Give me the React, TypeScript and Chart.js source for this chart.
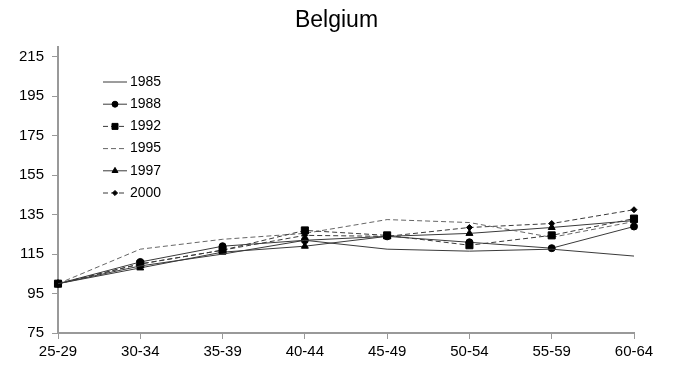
import React, { useEffect, useRef } from "react";
import { Chart, registerables } from "chart.js";
import { drawPoint } from "chart.js/helpers";

Chart.register(...registerables);

const categories = ["25-29", "30-34", "35-39", "40-44", "45-49", "50-54", "55-59", "60-64"];
const series1985 = [100, 109, 115, 122, 117.5, 116.5, 117.5, 114];
const series1988 = [100, 111, 119, 122, 124, 121, 118, 129];
const series1992 = [100, 110, 117, 127, 124.5, 119.5, 124.5, 133];
const series1995 = [100, 117.5, 122.5, 125.5, 132.5, 131, 123.5, 131.5];
const series1997 = [100, 108, 116, 119, 124, 125.5, 128.5, 132];
const series2000 = [100, 110, 117, 124.5, 124, 128.5, 130.5, 137.5];
const yTicks = [75, 95, 115, 135, 155, 175, 195, 215];
const title = "Belgium";

const FONT = "'Liberation Sans', Arial, sans-serif";

const titlePlugin = {
  id: "customTitle",
  afterDraw(chart: any) {
    const ctx = chart.ctx;
    ctx.save();
    ctx.fillStyle = "#000";
    ctx.font = `23px ${FONT}`;
    ctx.textAlign = "center";
    ctx.textBaseline = "alphabetic";
    ctx.fillText(title, chart.width / 2, 27);
    ctx.restore();
  },
};

const legendPlugin = {
  id: "customLegend",
  afterDraw(chart: any) {
    const ctx = chart.ctx;
    const x0 = chart.chartArea.left + 45;
    const x1 = x0 + 24;
    const y0 = 82;
    const step = 22.2;
    chart.data.datasets.forEach((ds: any, i: number) => {
      const y = y0 + i * step;
      ctx.save();
      ctx.strokeStyle = ds.borderColor;
      ctx.lineWidth = ds.borderWidth;
      ctx.setLineDash(ds.borderDash || []);
      ctx.beginPath();
      ctx.moveTo(x0, y);
      ctx.lineTo(x1, y);
      ctx.stroke();
      ctx.setLineDash([]);
      if (ds.pointRadius > 0) {
        ctx.fillStyle = ds.pointBackgroundColor;
        ctx.strokeStyle = ds.pointBorderColor;
        ctx.lineWidth = 1;
        drawPoint(ctx, { pointStyle: ds.pointStyle, radius: ds.pointRadius * 0.85, rotation: 0, borderWidth: 1 }, (x0 + x1) / 2, y);
      }
      ctx.fillStyle = "#000";
      ctx.font = `14px ${FONT}`;
      ctx.textAlign = "left";
      ctx.textBaseline = "middle";
      ctx.fillText(ds.label, x1 + 3, y);
      ctx.restore();
    });
  },
};

export default function App() {
  const ref = useRef<HTMLCanvasElement | null>(null);
  useEffect(() => {
    if (!ref.current) return;
    const mk = (label: string, data: number[], opts: any) => ({
      label,
      data,
      borderColor: "#3a3a3a",
      borderWidth: 1,
      pointBackgroundColor: "#000",
      pointBorderColor: "#000",
      pointRadius: 0,
      pointStyle: "circle",
      tension: 0,
      fill: false,
      ...opts,
    });
    const chart = new Chart(ref.current, {
      type: "line",
      data: {
        labels: categories,
        datasets: [
          mk("1985", series1985, {}),
          mk("1988", series1988, { pointRadius: 3.5, pointStyle: "circle" }),
          mk("1992", series1992, { borderDash: [5, 3], pointRadius: 5, pointStyle: "rect" }),
          mk("1995", series1995, { borderDash: [5, 3], borderColor: "#666" }),
          mk("1997", series1997, { pointRadius: 4, pointStyle: "triangle" }),
          mk("2000", series2000, { borderDash: [5, 3], pointRadius: 3, pointStyle: "rectRot" }),
        ],
      },
      options: {
        responsive: false,
        animation: false,
        layout: { padding: { left: 0, right: 39, top: 47, bottom: 0 } },
        plugins: {
          legend: { display: false },
          tooltip: { enabled: false },
          title: { display: false },
        },
        scales: {
          x: {
            type: "category",
            offset: false,
            grid: { display: true, drawOnChartArea: false, drawTicks: true, tickLength: 6, color: "#999" },
            border: { color: "#999", width: 2 },
            ticks: { color: "#000", font: { family: FONT, size: 15 }, padding: 4, maxRotation: 0, autoSkip: false },
            afterFit(s: any) { s.height = 33; },
          },
          y: {
            min: 75,
            max: 220,
            afterBuildTicks(s: any) { s.ticks = yTicks.map((v) => ({ value: v })); },
            grid: { display: true, drawOnChartArea: false, drawTicks: true, tickLength: 6, color: "#999" },
            border: { color: "#999", width: 2 },
            ticks: { color: "#000", font: { family: FONT, size: 15 }, padding: 8 },
            afterFit(s: any) { s.width = 58; },
          },
        },
      },
      plugins: [legendPlugin, titlePlugin],
    } as any);
    return () => chart.destroy();
  }, []);
  return (
    <div style={{ position: "fixed", left: 0, top: 0, width: 673, height: 366, background: "#fff" }}>
      <canvas ref={ref} width={673} height={366} style={{ display: "block" }} />
    </div>
  );
}
